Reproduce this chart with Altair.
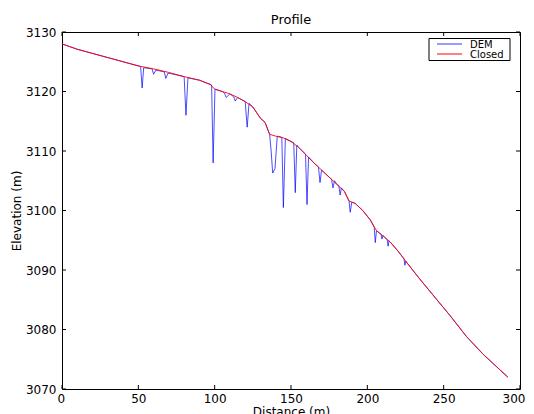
import altair as alt
import pandas as pd

# Closed (filled) profile vertices
closed_dist = [0, 10, 20, 30, 40, 50, 60, 70, 80, 90, 97, 100, 105, 110, 115, 120, 125,
               130, 133, 136, 140, 145, 150, 155, 160, 165, 170, 175, 180, 185, 188, 192,
               197, 202, 206, 210, 215, 220, 226, 234, 243, 254, 265, 276, 292]
closed_elev = [3128.0, 3127.1, 3126.4, 3125.7, 3125.0, 3124.3, 3123.8, 3123.2, 3122.5, 3121.9,
               3121.2, 3120.4, 3120.0, 3119.6, 3119.0, 3118.3, 3117.4, 3115.5, 3114.8, 3112.8,
               3112.5, 3112.2, 3111.6, 3110.6, 3109.3, 3108.0, 3106.8, 3105.6, 3104.4, 3103.2,
               3101.6, 3101.2, 3100.0, 3098.4, 3096.6, 3095.8, 3094.7, 3093.2, 3091.2, 3088.6,
               3085.8, 3082.4, 3078.8, 3075.8, 3072.0]

# Raw DEM profile vertices (with pits)
dem_dist = [0, 10, 20, 30, 40, 50, 51.5, 52.5, 53.5, 59, 60, 61.5, 67, 68, 69.5, 80, 81.2, 82.5,
            90, 97, 98, 99, 100.2, 105, 106.5, 107.5, 110, 112.5, 113.5, 115, 120, 121.3, 122.5,
            125, 130, 133, 136, 137, 138, 139.5, 141, 144, 145, 146.3, 150, 151.8, 152.8, 153.8,
            155, 159.5, 160.5, 161.5, 165, 168, 169, 170, 175, 176.5, 177.5, 178.5, 180, 181.3,
            182.2, 183, 185, 188, 188.8, 189.8, 192, 197, 202, 204.5, 205.2, 206, 209, 209.6,
            210.2, 213, 213.6, 214.2, 215, 220, 224, 224.6, 225.2, 226, 234, 243, 254, 265, 276,
            292]
dem_elev = [3128.0, 3127.1, 3126.4, 3125.7, 3125.0, 3124.3, 3124.2, 3120.6, 3124.0, 3123.8,
            3122.9, 3123.6, 3123.3, 3122.2, 3123.1, 3122.5, 3116.0, 3122.3, 3121.9, 3121.2,
            3121.1, 3108.0, 3120.4, 3120.0, 3119.7, 3119.0, 3119.6, 3119.1, 3118.4, 3119.0,
            3118.3, 3114.0, 3118.0, 3117.4, 3115.5, 3114.8, 3112.8, 3110.0, 3106.3, 3107.0,
            3112.5, 3112.3, 3100.5, 3112.1, 3111.6, 3111.4, 3103.0, 3111.0, 3110.6, 3109.5,
            3101.0, 3109.0, 3108.0, 3107.3, 3104.7, 3106.8, 3105.6, 3105.3, 3103.8, 3105.0,
            3104.4, 3104.2, 3102.6, 3103.8, 3103.2, 3101.6, 3099.7, 3101.4, 3101.2, 3100.0,
            3098.4, 3097.2, 3094.6, 3096.6, 3096.0, 3095.2, 3095.8, 3095.1, 3094.0, 3094.9,
            3094.7, 3093.2, 3091.9, 3090.8, 3091.5, 3091.2, 3088.6, 3085.8, 3082.4, 3078.8,
            3075.8, 3072.0]

series_names = ["DEM", "Closed"]
series_colors = ["#0000ff", "#ff0000"]
x_ticks = [0, 50, 100, 150, 200, 250, 300]
y_ticks = [3070, 3080, 3090, 3100, 3110, 3120, 3130]

W, H = 458, 357
FONT = "DejaVu Sans"

dem_df = pd.DataFrame({"Distance": dem_dist, "Elevation": dem_elev,
                       "series": "DEM", "i": list(range(len(dem_dist)))})
closed_df = pd.DataFrame({"Distance": closed_dist, "Elevation": closed_elev,
                          "series": "Closed", "i": list(range(len(closed_dist)))})

xscale = alt.Scale(domain=[0, 300], nice=False, zero=False)
yscale = alt.Scale(domain=[3070, 3130], nice=False, zero=False)
cscale = alt.Scale(domain=series_names, range=series_colors)
color = alt.Color("series:N", scale=cscale, legend=None)

x_axis = alt.Axis(values=x_ticks, title="Distance (m)", grid=False, domain=False,
                  tickSize=0, labelPadding=4, labelFont=FONT, labelFontSize=12,
                  labelColor="black", titleFont=FONT, titleFontSize=12,
                  titleFontWeight="normal", titleColor="black", titlePadding=2,
                  labelFlush=True, labelFlushOffset=5, format="d")
y_axis = alt.Axis(values=y_ticks, title="Elevation (m)", grid=False, domain=False,
                  tickSize=0, labelPadding=6, labelFont=FONT, labelFontSize=12,
                  labelColor="black", titleFont=FONT, titleFontSize=12,
                  titleFontWeight="normal", titleColor="black", titlePadding=2,
                  labelFlush=False, format="d")

x_enc = alt.X("Distance:Q", scale=xscale, axis=x_axis)
y_enc = alt.Y("Elevation:Q", scale=yscale, axis=y_axis)

dem_line = alt.Chart(dem_df).mark_line(strokeWidth=0.7).encode(
    x=x_enc, y=y_enc, color=color, order="i:Q")
closed_line = alt.Chart(closed_df).mark_line(strokeWidth=0.9).encode(
    x=x_enc, y=y_enc, color=color, order="i:Q")

xt = pd.DataFrame({"Distance": x_ticks})
yt = pd.DataFrame({"Elevation": y_ticks})
tick_len = 4
xticks_bot = alt.Chart(xt).mark_rule(color="black", strokeWidth=1).encode(
    x=x_enc, y=alt.value(H), y2=alt.value(H - tick_len))
xticks_top = alt.Chart(xt).mark_rule(color="black", strokeWidth=1).encode(
    x=x_enc, y=alt.value(0), y2=alt.value(tick_len))
yticks_left = alt.Chart(yt).mark_rule(color="black", strokeWidth=1).encode(
    y=y_enc, x=alt.value(0), x2=alt.value(tick_len))
yticks_right = alt.Chart(yt).mark_rule(color="black", strokeWidth=1).encode(
    y=y_enc, x=alt.value(W), x2=alt.value(W - tick_len))

# Legend (matplotlib style box, upper right)
leg_df = pd.DataFrame({"series": series_names})
lx0, lx1, ly0, ly1 = 367, 448, 6.5, 28.5
row_y = [12, 22]
leg_box = alt.Chart(leg_df.head(1)).mark_rect(fill="white", stroke="black", strokeWidth=1).encode(
    x=alt.value(lx0), x2=alt.value(lx1), y=alt.value(ly0), y2=alt.value(ly1))
leg_layers = [leg_box]
for k, name in enumerate(series_names):
    sub = leg_df[leg_df["series"] == name]
    leg_layers.append(alt.Chart(sub).mark_rule(strokeWidth=0.8 if name == "DEM" else 1).encode(
        x=alt.value(375), x2=alt.value(400), y=alt.value(row_y[k]), color=color))
    leg_layers.append(alt.Chart(sub).mark_text(align="left", baseline="middle", font=FONT,
                                               fontSize=10, color="black").encode(
        x=alt.value(408), y=alt.value(row_y[k] + 0.5), text="series:N"))

chart = alt.layer(dem_line, closed_line, xticks_bot, xticks_top, yticks_left, yticks_right,
                  *leg_layers).properties(
    width=W, height=H,
    title=alt.Title("Profile", font=FONT, fontSize=13, fontWeight="normal", color="black",
                    anchor="middle", offset=-1),
    autosize=alt.AutoSizeParams(type="none"),
    padding={"left": 54, "top": 24, "right": 6, "bottom": 25},
    background="white",
).configure_view(stroke="black", strokeWidth=1)

chart.save("out.html", embed_options={"renderer": "svg", "actions": False})
